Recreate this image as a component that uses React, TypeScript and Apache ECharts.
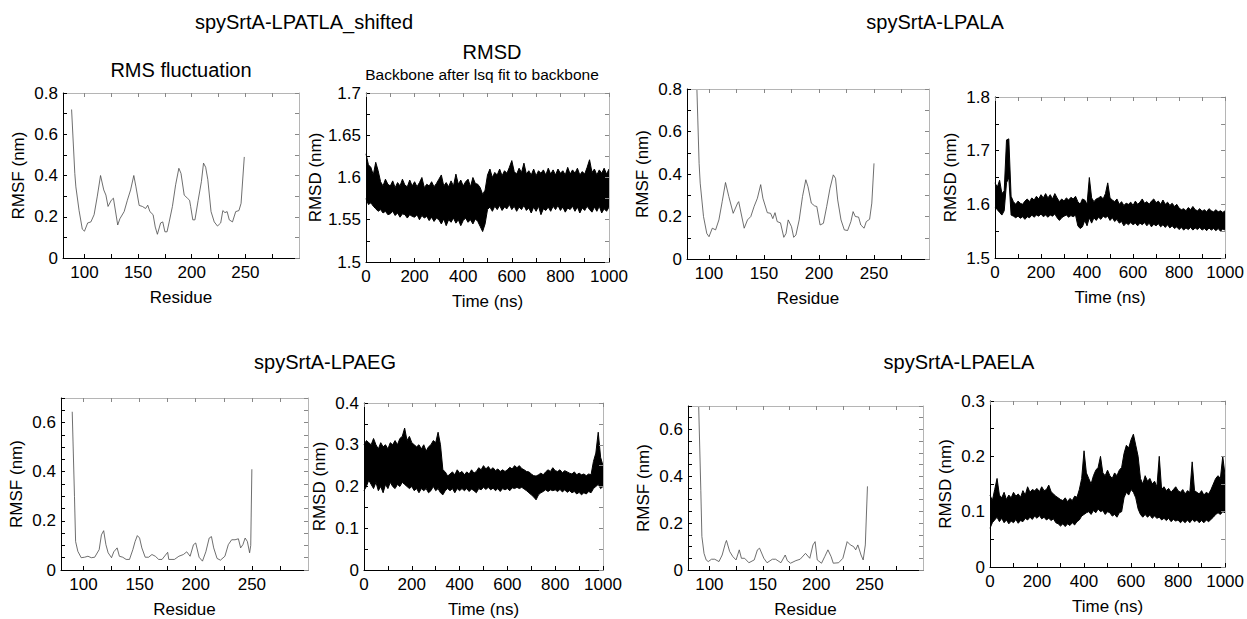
import React, { useEffect, useRef } from "react";
import * as echarts from "echarts";

const FONT = '"Liberation Sans", Arial, Helvetica, sans-serif';

// ---------- titles ----------
const GROUP_TITLES = ["spySrtA-LPATLA_shifted", "spySrtA-LPALA", "spySrtA-LPAEG", "spySrtA-LPAELA"];
const RMSF_TITLE = "RMS fluctuation";
const RMSD_TITLE = "RMSD";
const RMSD_SUBTITLE = "Backbone after lsq fit to backbone";

// ---------- tick / label values ----------
const RES_TICKS = [100, 125, 150, 175, 200, 225, 250, 275];
const RES_LABELS = [100, 150, 200, 250];
const TIME_TICKS = [0, 100, 200, 300, 400, 500, 600, 700, 800, 900, 1000];
const TIME_LABELS = [0, 200, 400, 600, 800, 1000];

const Y1_TICKS = [0, 0.1, 0.2, 0.3, 0.4, 0.5, 0.6, 0.7, 0.8];
const Y1_LABELS = [0, 0.2, 0.4, 0.6, 0.8];
const Y2_TICKS = [1.5, 1.525, 1.55, 1.575, 1.6, 1.625, 1.65, 1.675, 1.7];
const Y2_LABELS = [1.5, 1.55, 1.6, 1.65, 1.7];
const Y4_TICKS = [1.5, 1.55, 1.6, 1.65, 1.7, 1.75, 1.8];
const Y4_LABELS = [1.5, 1.6, 1.7, 1.8];
const Y5_TICKS = [0, 0.05, 0.1, 0.15, 0.2, 0.25, 0.3, 0.35, 0.4, 0.45, 0.5, 0.55, 0.6, 0.65, 0.7];
const Y5_LABELS = [0, 0.2, 0.4, 0.6];
const Y6_TICKS = [0, 0.05, 0.1, 0.15, 0.2, 0.25, 0.3, 0.35, 0.4];
const Y6_LABELS = [0, 0.1, 0.2, 0.3, 0.4];
const Y8_TICKS = [0, 0.05, 0.1, 0.15, 0.2, 0.25, 0.3];
const Y8_LABELS = [0, 0.1, 0.2, 0.3];

// ---------- RMSF data: [residue, RMSF nm] ----------
const RMSF_LPATLA: [number, number][] = [
  [88, 0.72], [91, 0.41], [92, 0.345], [95, 0.23], [98, 0.14], [100, 0.13], [103, 0.17], [106, 0.175],
  [109, 0.21], [112, 0.3], [115, 0.4], [118, 0.33], [120, 0.305], [122, 0.25], [125, 0.28], [127, 0.29],
  [131, 0.16], [133, 0.19], [137, 0.225], [140, 0.28], [143, 0.33], [146, 0.4], [148, 0.345], [151, 0.255],
  [154, 0.25], [157, 0.24], [159, 0.256], [161, 0.225], [164, 0.21], [166, 0.15], [168, 0.115], [171, 0.17],
  [173, 0.175], [175, 0.127], [177, 0.127], [179, 0.175], [182, 0.25], [185, 0.355], [188, 0.435], [190, 0.41],
  [193, 0.305], [196, 0.29], [198, 0.28], [199, 0.25], [201, 0.185], [203, 0.185], [206, 0.28], [209, 0.37],
  [211, 0.46], [213, 0.44], [215, 0.38], [218, 0.225], [221, 0.175], [224, 0.155], [227, 0.17], [229, 0.23],
  [231, 0.22], [233, 0.225], [235, 0.185], [238, 0.175], [241, 0.225], [244, 0.23], [246, 0.265], [249, 0.49],
];
const RMSF_LPALA: [number, number][] = [
  [89, 0.8], [91, 0.45], [92, 0.357], [95, 0.2], [98, 0.12], [100, 0.105], [103, 0.145], [106, 0.137],
  [109, 0.184], [112, 0.27], [115, 0.36], [118, 0.294], [122, 0.215], [126, 0.263], [127, 0.27], [132, 0.145],
  [135, 0.184], [138, 0.2], [141, 0.247], [144, 0.286], [147, 0.35], [149, 0.286], [153, 0.218], [156, 0.215],
  [158, 0.19], [160, 0.218], [162, 0.176], [165, 0.17], [168, 0.102], [170, 0.12], [172, 0.184], [175, 0.152],
  [177, 0.102], [179, 0.113], [182, 0.184], [185, 0.294], [188, 0.373], [190, 0.34], [193, 0.263], [196, 0.25],
  [198, 0.247], [201, 0.16], [204, 0.168], [207, 0.247], [210, 0.333], [213, 0.396], [215, 0.38], [217, 0.278],
  [220, 0.184], [223, 0.137], [226, 0.134], [229, 0.176], [231, 0.223], [233, 0.2], [236, 0.197], [238, 0.16],
  [241, 0.145], [243, 0.176], [246, 0.187], [248, 0.263], [250, 0.45],
];
const RMSF_LPAEG: [number, number][] = [
  [90, 0.644], [92, 0.3], [93, 0.116], [95, 0.076], [98, 0.05], [101, 0.052], [104, 0.056], [107, 0.05],
  [110, 0.052], [114, 0.083], [116, 0.143], [118, 0.16], [120, 0.103], [122, 0.07], [125, 0.05], [127, 0.074],
  [130, 0.09], [132, 0.056], [135, 0.052], [138, 0.043], [141, 0.043], [144, 0.083], [146, 0.116], [148, 0.14],
  [150, 0.13], [152, 0.09], [155, 0.052], [158, 0.052], [161, 0.063], [164, 0.056], [167, 0.043], [170, 0.043],
  [175, 0.072], [176, 0.043], [181, 0.043], [185, 0.056], [189, 0.063], [192, 0.074], [195, 0.056], [198, 0.103],
  [200, 0.11], [203, 0.052], [206, 0.036], [209, 0.074], [212, 0.13], [214, 0.136], [216, 0.09], [219, 0.047],
  [222, 0.04], [226, 0.056], [229, 0.103], [232, 0.123], [235, 0.123], [238, 0.127], [240, 0.09], [242, 0.103],
  [244, 0.13], [246, 0.116], [248, 0.07], [249, 0.1], [250, 0.41],
];
const RMSF_LPAELA: [number, number][] = [
  [90, 0.7], [92, 0.34], [93, 0.143], [95, 0.071], [97, 0.043], [99, 0.036], [102, 0.046], [105, 0.046],
  [109, 0.036], [112, 0.064], [115, 0.114], [116, 0.126], [119, 0.079], [122, 0.057], [125, 0.043], [128, 0.086],
  [130, 0.05], [133, 0.05], [137, 0.031], [142, 0.043], [145, 0.086], [147, 0.093], [151, 0.05], [154, 0.031],
  [159, 0.046], [162, 0.046], [167, 0.031], [171, 0.064], [173, 0.04], [176, 0.029], [181, 0.04], [185, 0.046],
  [190, 0.071], [194, 0.05], [197, 0.107], [199, 0.121], [201, 0.043], [205, 0.029], [208, 0.057], [211, 0.086],
  [214, 0.057], [216, 0.029], [221, 0.031], [225, 0.05], [229, 0.121], [232, 0.107], [235, 0.1], [237, 0.086],
  [239, 0.107], [242, 0.064], [244, 0.043], [246, 0.107], [248, 0.357],
];

// ---------- RMSD data: lower / upper envelope every 10 ns (0..1000 ns) ----------
const RMSD_STEP_NS = 10;
const RMSD_LPATLA_LO = [
  1.575, 1.568, 1.57, 1.566, 1.563, 1.56, 1.562, 1.558, 1.56, 1.556,
  1.557, 1.56, 1.555, 1.558, 1.553, 1.557, 1.556, 1.552, 1.556, 1.554,
  1.553, 1.556, 1.55, 1.555, 1.552, 1.554, 1.549, 1.553, 1.548, 1.552,
  1.55, 1.545, 1.551, 1.543, 1.55, 1.547, 1.552, 1.546, 1.55, 1.543,
  1.549, 1.552, 1.547, 1.55, 1.545, 1.551, 1.548, 1.542, 1.536, 1.545,
  1.562, 1.565, 1.56, 1.566, 1.562, 1.567, 1.561, 1.565, 1.563, 1.568,
  1.562, 1.566, 1.56, 1.565, 1.562, 1.567, 1.561, 1.564, 1.558, 1.565,
  1.56, 1.566, 1.556, 1.563, 1.561, 1.565, 1.56, 1.566, 1.562, 1.567,
  1.561, 1.565, 1.559, 1.564, 1.562, 1.566, 1.56, 1.565, 1.558, 1.564,
  1.561, 1.566, 1.562, 1.559, 1.565, 1.56, 1.566, 1.558, 1.563, 1.56,
  1.565,
];
const RMSD_LPATLA_HI = [
  1.628, 1.615, 1.612, 1.603, 1.618, 1.608, 1.595, 1.59, 1.598, 1.592,
  1.59, 1.596, 1.588, 1.594, 1.59, 1.598, 1.591, 1.589, 1.597, 1.59,
  1.595, 1.589, 1.594, 1.6, 1.588, 1.592, 1.59, 1.595, 1.589, 1.593,
  1.598, 1.603, 1.59, 1.594, 1.589, 1.596, 1.59, 1.604, 1.592, 1.597,
  1.59, 1.595, 1.598, 1.589, 1.6, 1.593, 1.592, 1.588, 1.58, 1.585,
  1.603, 1.61, 1.6, 1.606, 1.603, 1.61, 1.602, 1.608, 1.605, 1.612,
  1.62, 1.607, 1.604, 1.611, 1.606, 1.617, 1.604, 1.608, 1.603, 1.61,
  1.602, 1.608, 1.605, 1.609, 1.603, 1.611, 1.604, 1.609, 1.603, 1.61,
  1.605, 1.608, 1.603, 1.612, 1.604, 1.609, 1.605, 1.611, 1.603, 1.607,
  1.604, 1.612, 1.621, 1.606, 1.61, 1.603, 1.609, 1.605, 1.611, 1.604,
  1.61,
];
const RMSD_LPALA_LO = [
  1.595, 1.59, 1.585, 1.58, 1.588, 1.64, 1.65, 1.58, 1.578, 1.575,
  1.578, 1.574, 1.577, 1.572, 1.577, 1.575, 1.58, 1.576, 1.58, 1.578,
  1.582, 1.577, 1.58, 1.576, 1.58, 1.578, 1.582, 1.575, 1.57, 1.575,
  1.578, 1.58, 1.576, 1.579, 1.577, 1.58, 1.56, 1.555, 1.558, 1.57,
  1.56, 1.575, 1.565, 1.575, 1.57, 1.576, 1.572, 1.578, 1.575, 1.578,
  1.57, 1.575, 1.568, 1.572, 1.565, 1.568, 1.56, 1.565, 1.562, 1.566,
  1.562, 1.565, 1.56, 1.565, 1.562, 1.566, 1.56, 1.565, 1.558, 1.563,
  1.56, 1.564, 1.558, 1.562, 1.557, 1.562, 1.556, 1.56, 1.555, 1.558,
  1.553, 1.557, 1.552, 1.556, 1.553, 1.557, 1.552, 1.556, 1.553, 1.557,
  1.552, 1.555, 1.551, 1.556, 1.552, 1.555, 1.551, 1.555, 1.55, 1.554,
  1.552,
];
const RMSD_LPALA_HI = [
  1.64, 1.632, 1.645, 1.62, 1.625, 1.72, 1.722, 1.615, 1.605, 1.6,
  1.606, 1.602, 1.6, 1.606, 1.61, 1.605, 1.612, 1.608, 1.615, 1.61,
  1.618, 1.612, 1.62, 1.612, 1.618, 1.61, 1.62, 1.612, 1.605, 1.61,
  1.606, 1.612, 1.608, 1.613, 1.61, 1.615, 1.605, 1.6, 1.61, 1.608,
  1.6, 1.65, 1.612, 1.605, 1.61, 1.612, 1.615, 1.61, 1.62, 1.64,
  1.612, 1.608, 1.605, 1.61, 1.6, 1.605, 1.598, 1.602, 1.6, 1.604,
  1.598, 1.606, 1.6, 1.604, 1.61, 1.602, 1.605, 1.6, 1.606, 1.61,
  1.603, 1.606, 1.6, 1.608, 1.6, 1.604, 1.598, 1.602, 1.596, 1.6,
  1.593, 1.59, 1.592, 1.588, 1.594, 1.59, 1.596, 1.59, 1.588, 1.592,
  1.587, 1.59, 1.586, 1.592, 1.588, 1.586, 1.59, 1.586, 1.588, 1.585,
  1.588,
];
const RMSD_LPAEG_LO = [
  0.19, 0.2, 0.215, 0.205, 0.195, 0.21, 0.19, 0.2, 0.185, 0.205,
  0.195, 0.21, 0.2, 0.195, 0.205, 0.2, 0.21, 0.205, 0.2, 0.195,
  0.2, 0.19, 0.195, 0.185, 0.195, 0.19, 0.195, 0.185, 0.19, 0.2,
  0.19, 0.195, 0.185, 0.18, 0.19, 0.195, 0.19, 0.195, 0.185, 0.195,
  0.19, 0.195, 0.19, 0.195, 0.188, 0.194, 0.19, 0.185, 0.195, 0.192,
  0.198, 0.193, 0.198, 0.192, 0.196, 0.19, 0.195, 0.188, 0.195, 0.192,
  0.195, 0.19, 0.197, 0.195, 0.198, 0.195, 0.198, 0.194, 0.19, 0.185,
  0.18, 0.175, 0.168, 0.18, 0.185, 0.188, 0.192, 0.188, 0.192, 0.19,
  0.192, 0.188, 0.193, 0.187, 0.192, 0.186, 0.19, 0.185, 0.188, 0.182,
  0.186, 0.18, 0.185, 0.182, 0.188, 0.185, 0.195, 0.2, 0.205, 0.195,
  0.2,
];
const RMSD_LPAEG_HI = [
  0.3, 0.31, 0.305, 0.3, 0.315, 0.3, 0.29, 0.305, 0.295, 0.3,
  0.29, 0.305, 0.3, 0.31, 0.3, 0.315, 0.32, 0.34, 0.31, 0.32,
  0.305, 0.3, 0.295, 0.3, 0.29, 0.3, 0.285, 0.295, 0.3, 0.31,
  0.305, 0.33, 0.3, 0.24, 0.235, 0.225, 0.23, 0.235, 0.228, 0.24,
  0.232, 0.236, 0.228, 0.235, 0.23, 0.24, 0.232, 0.236, 0.245, 0.24,
  0.25, 0.242, 0.248, 0.24, 0.245, 0.238, 0.242, 0.236, 0.24, 0.236,
  0.24, 0.246, 0.242, 0.25, 0.245, 0.25, 0.243, 0.24, 0.236, 0.235,
  0.23, 0.226, 0.225, 0.228, 0.232, 0.228, 0.235, 0.24, 0.236, 0.245,
  0.238, 0.236, 0.24, 0.233, 0.238, 0.235, 0.232, 0.23, 0.235, 0.228,
  0.232, 0.228, 0.23, 0.226, 0.23, 0.228, 0.26, 0.28, 0.33, 0.27,
  0.25,
];
const RMSD_LPAELA_LO = [
  0.07, 0.08, 0.085, 0.09, 0.082, 0.088, 0.08, 0.085, 0.078, 0.083,
  0.08, 0.086, 0.079, 0.084, 0.082, 0.088, 0.085, 0.09, 0.086, 0.092,
  0.088, 0.093, 0.087, 0.09, 0.085, 0.088, 0.084, 0.087, 0.08, 0.078,
  0.074, 0.078, 0.073, 0.078, 0.075, 0.08, 0.076, 0.082, 0.085, 0.092,
  0.095, 0.098, 0.1, 0.095, 0.102, 0.098, 0.105, 0.1, 0.102, 0.095,
  0.1, 0.098, 0.092, 0.095, 0.09, 0.098, 0.1, 0.125, 0.135, 0.13,
  0.14, 0.135, 0.125, 0.105, 0.095, 0.09, 0.095, 0.09, 0.094, 0.088,
  0.092, 0.088, 0.09, 0.085, 0.088, 0.084, 0.088, 0.082, 0.086, 0.083,
  0.085, 0.08, 0.084, 0.08, 0.085, 0.08, 0.086, 0.082, 0.085, 0.08,
  0.084, 0.08, 0.085, 0.082, 0.086, 0.09, 0.095, 0.098, 0.095, 0.1,
  0.098,
];
const RMSD_LPAELA_HI = [
  0.13, 0.12, 0.14, 0.16, 0.13, 0.125, 0.135, 0.122, 0.13, 0.125,
  0.135, 0.128, 0.132, 0.126, 0.138, 0.13, 0.145, 0.135, 0.14, 0.138,
  0.142, 0.136, 0.145, 0.138, 0.14, 0.148, 0.136, 0.132, 0.128, 0.125,
  0.122, 0.12, 0.125, 0.118, 0.124, 0.12, 0.128, 0.126, 0.14, 0.16,
  0.21, 0.17, 0.16, 0.15, 0.165, 0.175, 0.18, 0.2, 0.17, 0.165,
  0.175, 0.165, 0.16, 0.17, 0.165, 0.175, 0.18, 0.205, 0.22, 0.215,
  0.23, 0.24, 0.22, 0.2, 0.16, 0.15, 0.165, 0.155, 0.16, 0.15,
  0.155, 0.145, 0.2, 0.14, 0.145, 0.138, 0.142, 0.135, 0.14, 0.145,
  0.138, 0.135, 0.14, 0.132, 0.138, 0.135, 0.19, 0.138, 0.135, 0.132,
  0.138, 0.13, 0.135, 0.132, 0.14, 0.15, 0.16, 0.165, 0.16, 0.2,
  0.165,
];

type Panel = {
  box: [number, number, number, number];
  kind: "rmsf" | "rmsd";
  yMin: number;
  yMax: number;
  yTicks: number[];
  yLabels: number[];
  rmsf?: [number, number][];
  lo?: number[];
  hi?: number[];
};

const PANELS: Panel[] = [
  { box: [63, 93, 299, 258], kind: "rmsf", yMin: 0, yMax: 0.8, yTicks: Y1_TICKS, yLabels: Y1_LABELS, rmsf: RMSF_LPATLA },
  { box: [366, 93, 609, 262], kind: "rmsd", yMin: 1.5, yMax: 1.7, yTicks: Y2_TICKS, yLabels: Y2_LABELS, lo: RMSD_LPATLA_LO, hi: RMSD_LPATLA_HI },
  { box: [687, 89, 929, 259], kind: "rmsf", yMin: 0, yMax: 0.8, yTicks: Y1_TICKS, yLabels: Y1_LABELS, rmsf: RMSF_LPALA },
  { box: [995, 97, 1226, 258], kind: "rmsd", yMin: 1.5, yMax: 1.8, yTicks: Y4_TICKS, yLabels: Y4_LABELS, lo: RMSD_LPALA_LO, hi: RMSD_LPALA_HI },
  { box: [61, 398, 308, 572], kind: "rmsf", yMin: 0, yMax: 0.7, yTicks: Y5_TICKS, yLabels: Y5_LABELS, rmsf: RMSF_LPAEG },
  { box: [364, 403, 603, 570], kind: "rmsd", yMin: 0, yMax: 0.4, yTicks: Y6_TICKS, yLabels: Y6_LABELS, lo: RMSD_LPAEG_LO, hi: RMSD_LPAEG_HI },
  { box: [688, 406, 923, 570], kind: "rmsf", yMin: 0, yMax: 0.7, yTicks: Y5_TICKS, yLabels: Y5_LABELS, rmsf: RMSF_LPAELA },
  { box: [990, 401, 1228, 567], kind: "rmsd", yMin: 0, yMax: 0.3, yTicks: Y8_TICKS, yLabels: Y8_LABELS, lo: RMSD_LPAELA_LO, hi: RMSD_LPAELA_HI },
];

const GROUP_TITLE_POS: [number, number][] = [[304, 22], [935, 22], [325, 362], [959, 362]];

const fmt = (v: number) => String(v);

function buildOption() {
  const grid: any[] = [];
  const xAxis: any[] = [];
  const yAxis: any[] = [];
  const series: any[] = [];
  const labelStyle = { color: "#000", fontSize: 17, fontFamily: FONT, formatter: fmt };
  const nameStyle = { color: "#000", fontSize: 17, fontFamily: FONT };

  PANELS.forEach((p, i) => {
    const [l, t, r, b] = p.box;
    grid.push({ left: l, top: t, width: r - l, height: b - t, containLabel: false });
    const isRmsf = p.kind === "rmsf";
    const xMin = isRmsf ? 80 : 0;
    const xMax = isRmsf ? 300 : 1000;
    const xTicks = isRmsf ? RES_TICKS : TIME_TICKS;
    const xLabels = isRmsf ? RES_LABELS : TIME_LABELS;

    xAxis.push({
      type: "value", gridIndex: i, position: "bottom", min: xMin, max: xMax, z: 10,
      splitLine: { show: false },
      axisLine: { show: true, onZero: false, lineStyle: { color: "#000", width: 1 } },
      axisTick: { show: true, inside: true, length: 4, customValues: xTicks, lineStyle: { color: "#000" } },
      axisLabel: { show: true, customValues: xLabels, margin: 6, ...labelStyle },
      name: isRmsf ? "Residue" : "Time (ns)", nameLocation: "middle", nameGap: 31, nameTextStyle: nameStyle,
    });
    xAxis.push({
      type: "value", gridIndex: i, position: "top", min: xMin, max: xMax, z: 10,
      splitLine: { show: false },
      axisLine: { show: true, onZero: false, lineStyle: { color: "#b5b5b5", width: 1 } },
      axisTick: { show: true, inside: true, length: 4, customValues: xTicks, lineStyle: { color: "#888" } },
      axisLabel: { show: false },
    });
    yAxis.push({
      type: "value", gridIndex: i, position: "left", min: p.yMin, max: p.yMax, z: 10,
      splitLine: { show: false },
      axisLine: { show: true, onZero: false, lineStyle: { color: "#000", width: 1 } },
      axisTick: { show: true, inside: true, length: 4, customValues: p.yTicks, lineStyle: { color: "#000" } },
      axisLabel: { show: true, customValues: p.yLabels, margin: 5, ...labelStyle },
      name: isRmsf ? "RMSF (nm)" : "RMSD (nm)", nameLocation: "middle", nameGap: 36, nameTextStyle: nameStyle,
    });
    yAxis.push({
      type: "value", gridIndex: i, position: "right", min: p.yMin, max: p.yMax, z: 10,
      splitLine: { show: false },
      axisLine: { show: true, onZero: false, lineStyle: { color: "#b5b5b5", width: 1 } },
      axisTick: { show: true, inside: true, length: 4, customValues: p.yTicks, lineStyle: { color: "#888" } },
      axisLabel: { show: false },
    });

    if (isRmsf && p.rmsf) {
      series.push({
        type: "line", xAxisIndex: 2 * i, yAxisIndex: 2 * i, data: p.rmsf,
        showSymbol: false, symbol: "none", silent: true,
        lineStyle: { color: "#4a4a4a", width: 0.8 },
      });
    } else if (p.lo && p.hi) {
      const lo = p.lo;
      const hi = p.hi;
      // upper envelope filled down to the axis in black
      series.push({
        type: "line", xAxisIndex: 2 * i, yAxisIndex: 2 * i, z: 2,
        data: hi.map((v, k) => [k * RMSD_STEP_NS, v]),
        showSymbol: false, symbol: "none", silent: true,
        lineStyle: { color: "#000", width: 1 },
        areaStyle: { color: "#000", opacity: 1, origin: "start" },
      });
      // lower envelope: white fill below it leaves a black band
      series.push({
        type: "line", xAxisIndex: 2 * i, yAxisIndex: 2 * i, z: 3,
        data: lo.map((v, k) => [k * RMSD_STEP_NS, v]),
        showSymbol: false, symbol: "none", silent: true,
        lineStyle: { color: "#000", width: 1 },
        areaStyle: { color: "#fff", opacity: 1, origin: "start" },
      });
    }
  });

  const graphic: any[] = [];
  GROUP_TITLES.forEach((txt, i) => {
    const [x, y] = GROUP_TITLE_POS[i];
    graphic.push({
      type: "text", x, y,
      style: { text: txt, fill: "#000", fontSize: 20, fontFamily: FONT, align: "center", verticalAlign: "middle" },
    });
  });
  graphic.push({
    type: "text", x: 181, y: 70,
    style: { text: RMSF_TITLE, fill: "#000", fontSize: 20, fontFamily: FONT, align: "center", verticalAlign: "middle" },
  });
  graphic.push({
    type: "text", x: 492, y: 52,
    style: { text: RMSD_TITLE, fill: "#000", fontSize: 20, fontFamily: FONT, align: "center", verticalAlign: "middle" },
  });
  graphic.push({
    type: "text", x: 482, y: 74,
    style: { text: RMSD_SUBTITLE, fill: "#000", fontSize: 15.5, fontFamily: FONT, align: "center", verticalAlign: "middle" },
  });

  return {
    animation: false,
    backgroundColor: "#fff",
    textStyle: { fontFamily: FONT },
    grid, xAxis, yAxis, series, graphic,
  };
}

export default function App() {
  const ref = useRef<HTMLDivElement | null>(null);
  useEffect(() => {
    document.body.style.margin = "0";
    if (!ref.current) return;
    const chart = echarts.init(ref.current, undefined, { renderer: "svg" });
    chart.setOption(buildOption() as any);
    return () => chart.dispose();
  }, []);
  return <div ref={ref} style={{ width: 1247, height: 619 }} />;
}
